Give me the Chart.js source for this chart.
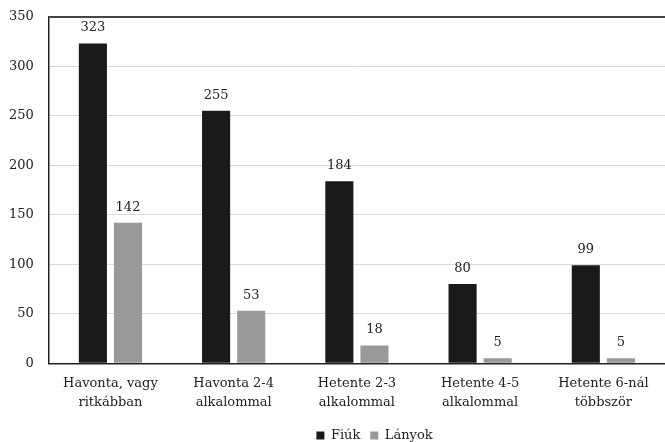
<!DOCTYPE html>
<html><head><meta charset="utf-8">
<script src="https://cdn.jsdelivr.net/npm/chart.js@4/dist/chart.umd.min.js"></script>
<style>html,body{margin:0;padding:0;background:#fff;overflow:hidden}#wrap{width:665px;height:442px;overflow:hidden;position:relative}#c{position:absolute;left:0;top:-6px}</style>
</head><body><div id="wrap"><canvas id="c" width="665" height="448"></canvas></div>
<script>
const categories = [["Havonta, vagy","ritkábban"],["Havonta 2-4","alkalommal"],["Hetente 2-3","alkalommal"],["Hetente 4-5","alkalommal"],["Hetente 6-nál","többször"]];
const fiuk = [323,255,184,80,99];
const lanyok = [142,53,18,5,5];
const yTicks = [0,50,100,150,200,250,300,350];
const FONT = "'DejaVu Serif', serif";

const labelPlugin = {
  id:'vlabels',
  afterLayout(chart){
    if (chart.legend){ chart.legend.left += 45; chart.legend.right += 45; }
  },
  afterDatasetsDraw(chart){
    const ctx = chart.ctx;
    ctx.save();
    ctx.font = "13px " + FONT;
    ctx.fillStyle = '#222';
    ctx.textAlign = 'center';
    ctx.textBaseline = 'bottom';
    chart.data.datasets.forEach((ds,i)=>{
      chart.getDatasetMeta(i).data.forEach((bar,j)=>{
        ctx.fillText(String(ds.data[j]), bar.x, bar.y - 9);
      });
    });
    ctx.restore();
  }
};

new Chart(document.getElementById('c'),{
  type:'bar',
  data:{labels:categories,datasets:[
    {label:'Fiúk',data:fiuk,backgroundColor:'#1a1a1a',categoryPercentage:0.57,barPercentage:0.8},
    {label:'Lányok',data:lanyok,backgroundColor:'#999999',categoryPercentage:0.57,barPercentage:0.8}
  ]},
  options:{
    responsive:false,animation:false,devicePixelRatio:1,
    layout:{padding:{top:0,right:0,left:-6,bottom:-10}},
    plugins:{
      legend:{position:'bottom',labels:{font:{family:FONT,size:13},color:'#222',boxWidth:8,boxHeight:8,padding:10}},
      tooltip:{enabled:false}
    },
    scales:{
      x:{grid:{display:false},border:{color:'#222',width:1.5},
         afterFit:(ax)=>{ax.height += 4;},
         ticks:{font:{family:FONT,size:13,lineHeight:1.45},color:'#222',maxRotation:0,padding:3}},
      y:{min:0,max:350,afterBuildTicks:(ax)=>{ax.ticks=yTicks.map(v=>({value:v}));},
         grid:{color:(c)=>c.tick && c.tick.value===350?'#444':'#d9d9d9',lineWidth:(c)=>c.tick && c.tick.value===350?2:1,drawTicks:false},
         border:{color:'#222',width:1.5},
         ticks:{font:{family:FONT,size:13},color:'#222',padding:15}}
    }
  },
  plugins:[labelPlugin]
});
</script></body></html>
